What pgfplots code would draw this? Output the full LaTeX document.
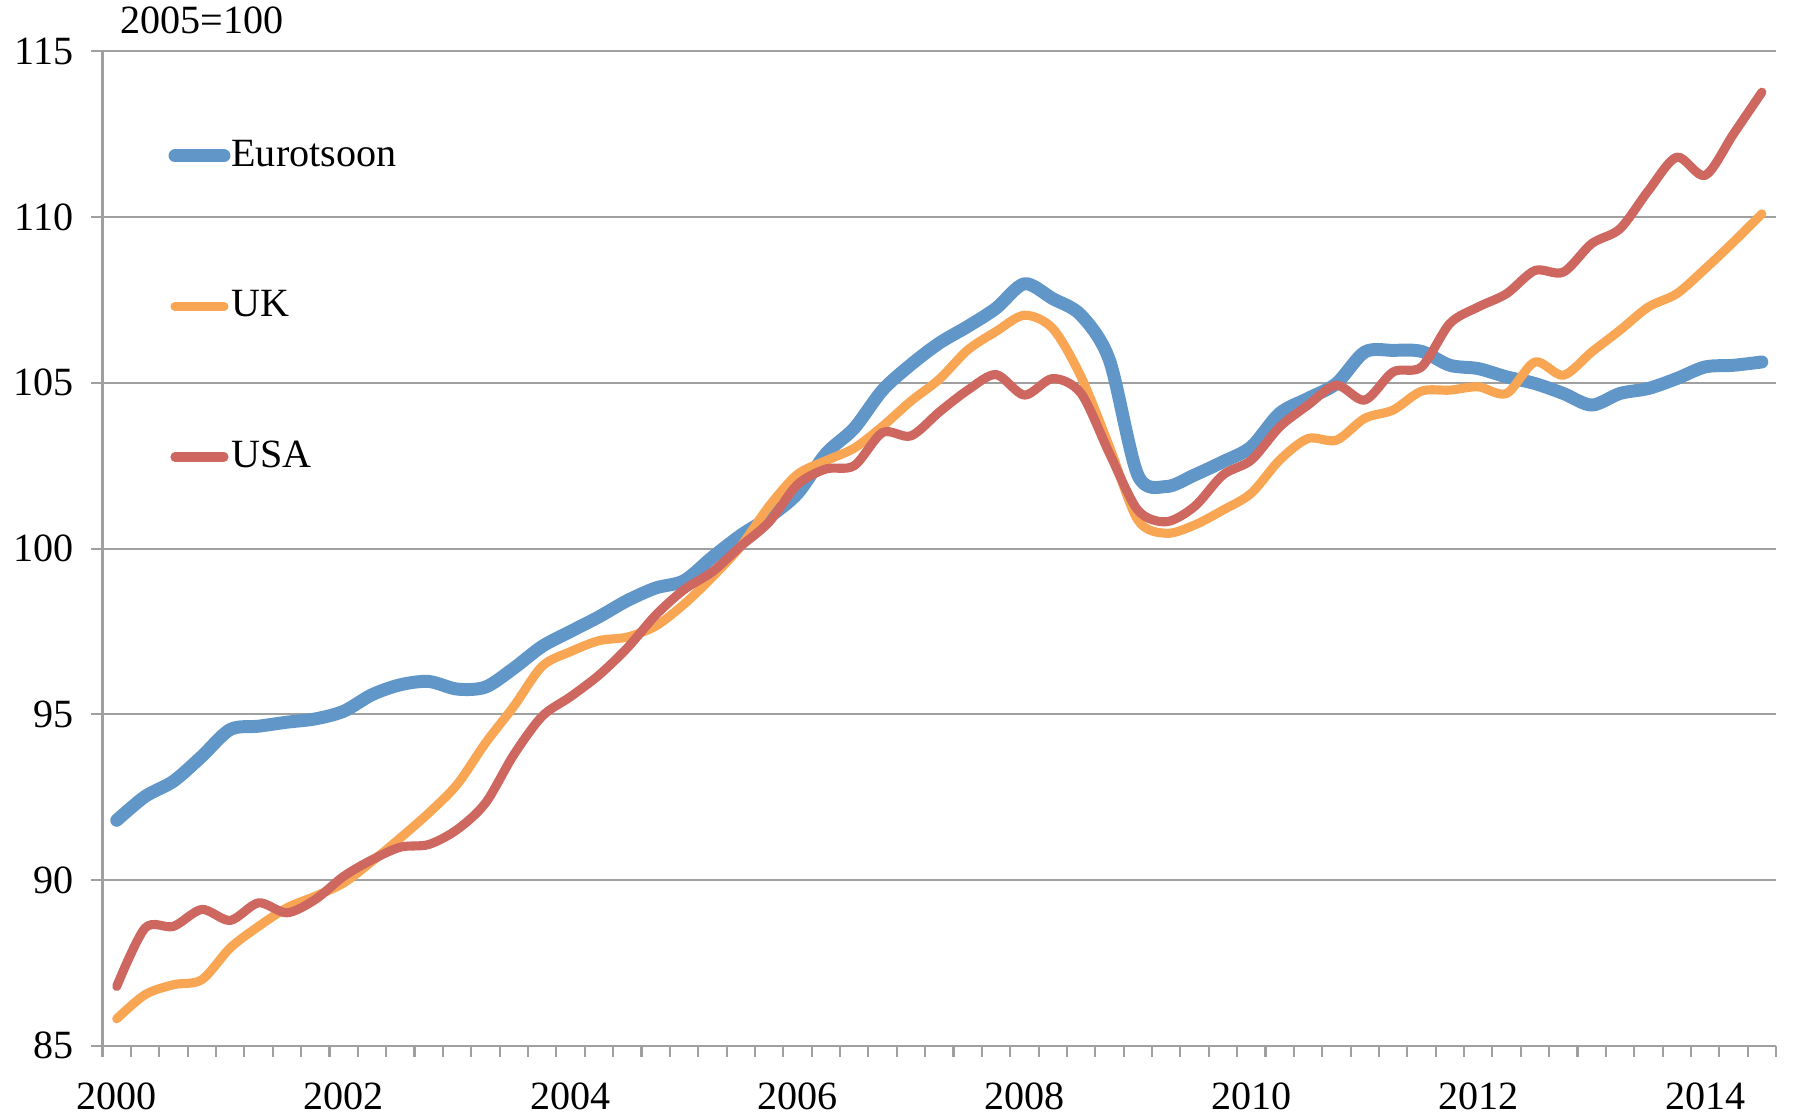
\documentclass[border=0pt]{standalone}
\usepackage{fontspec}
\setmainfont{Liberation Serif}
\usepackage{pgfplots}
\pgfplotsset{compat=1.18}
\usepackage{pgfplotstable}
\definecolor{cblue}{HTML}{6196C9}
\definecolor{corange}{HTML}{F8A653}
\definecolor{cred}{HTML}{CD675F}
\definecolor{gridgray}{HTML}{A0A0A0}

\pgfplotstableread{
k eu uk us
0 91.80 85.81 86.79
1 92.52 86.54 88.55
2 92.98 86.84 88.60
3 93.73 86.99 89.11
4 94.54 87.95 88.78
5 94.64 88.60 89.31
6 94.76 89.16 89.01
7 94.86 89.51 89.41
8 95.09 89.91 90.11
9 95.59 90.56 90.61
10 95.89 91.27 90.99
11 95.99 92.02 91.07
12 95.76 92.88 91.52
13 95.82 94.13 92.32
14 96.39 95.24 93.78
15 97.05 96.45 94.94
16 97.50 96.89 95.53
17 97.94 97.22 96.18
18 98.43 97.33 97.00
19 98.81 97.66 97.99
20 99.03 98.32 98.76
21 99.74 99.14 99.30
22 100.40 100.07 100.07
23 100.95 101.28 100.80
24 101.66 102.24 101.93
25 102.86 102.65 102.40
26 103.63 103.03 102.50
27 104.78 103.69 103.50
28 105.55 104.45 103.40
29 106.20 105.11 104.12
30 106.70 105.99 104.78
31 107.25 106.55 105.25
32 107.99 107.04 104.63
33 107.54 106.64 105.13
34 107.04 105.18 104.68
35 105.68 103.07 102.87
36 102.22 100.86 101.16
37 101.87 100.46 100.81
38 102.22 100.71 101.27
39 102.62 101.16 102.22
40 103.07 101.67 102.67
41 104.08 102.67 103.67
42 104.53 103.32 104.33
43 104.98 103.27 104.93
44 105.93 103.93 104.48
45 105.98 104.18 105.33
46 105.95 104.75 105.48
47 105.53 104.78 106.79
48 105.43 104.88 107.29
49 105.18 104.68 107.69
50 104.98 105.63 108.39
51 104.68 105.23 108.34
52 104.33 105.93 109.20
53 104.68 106.59 109.65
54 104.83 107.29 110.80
55 105.13 107.69 111.81
56 105.48 108.44 111.26
57 105.53 109.25 112.51
58 105.63 110.10 113.77
}\datatable

\begin{document}
\begin{tikzpicture}
\begin{axis}[
  name=ax,
  scale only axis,
  width=478.2bp, height=284.1bp,
  xmin=-0.5, xmax=58.5, ymin=85, ymax=115,
  axis lines*=left,
  axis line style={draw=gridgray, line width=0.6bp},
  ytick={85,90,...,115},
  ymajorgrids,
  grid style={gridgray, line width=0.6bp},
  tick align=outside,
  tick style={gridgray, line width=0.6bp},
  major tick length=3.2bp,
  xtick={-0.5,0.5,...,58.5},
  xticklabels={},
  extra x ticks={0,8,16,24,32,40,48,56},
  extra x tick labels={2000,2002,2004,2006,2008,2010,2012,2014},
  extra x tick style={major tick length=0pt, grid=none, xticklabel style={yshift=-7bp}},
  /pgf/number format/assume math mode=true,
  ticklabel style={font=\fontsize{11.5}{13}\selectfont, text=black},
  yticklabel style={xshift=-1.6bp},
  legend style={at={(0.039,0.915)}, anchor=north west, draw=none, fill=none,
    row sep=32bp, inner sep=0pt,
    nodes={inner xsep=0.3bp, inner ysep=1bp, font=\fontsize{11.5}{13}\selectfont}},
  legend cell align=left,
  legend image code/.code={\draw[#1, line cap=round] (0bp,0bp) -- (14bp,0bp);},
]
\addplot[cblue, line width=3.7bp, smooth, line cap=round, line join=round] table[x=k, y=eu] {\datatable};
\addlegendentry{Eurotsoon}
\addplot[corange, line width=2.6bp, smooth, line cap=round, line join=round] table[x=k, y=uk] {\datatable};
\addlegendentry{UK}
\addplot[cred, line width=2.6bp, smooth, line cap=round, line join=round] table[x=k, y=us] {\datatable};
\addlegendentry{USA}
\end{axis}
\node[anchor=west, font=\fontsize{11.5}{13}\selectfont, inner sep=0pt] at ([xshift=4.9bp, yshift=9bp]ax.north west) {2005=100};
\pgfresetboundingbox
\path[use as bounding box] ([shift={(-29.3bp,-20.3bp)}]ax.south west) rectangle ([shift={(6bp,14.7bp)}]ax.north east);
\end{tikzpicture}
\end{document}
